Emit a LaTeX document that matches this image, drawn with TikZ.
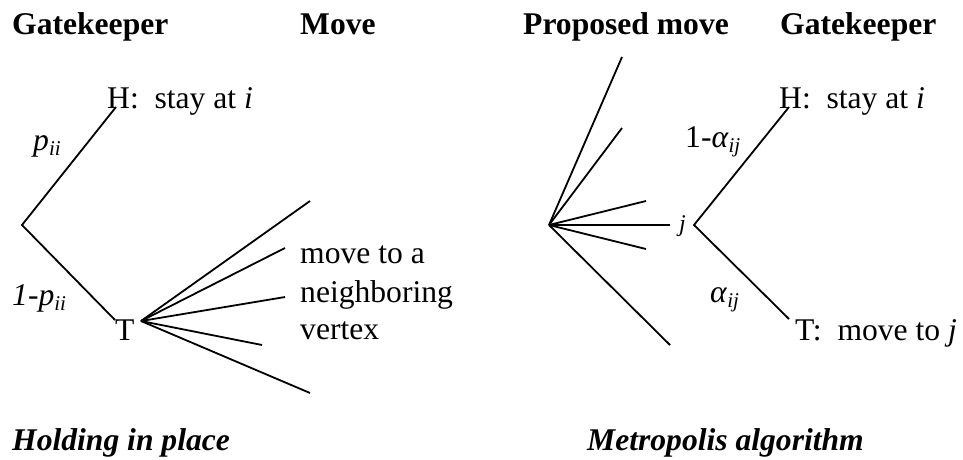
\documentclass[tikz,border=0pt]{standalone}
\usepackage{fontspec}
\setmainfont{Liberation Serif}
\newcommand\mysub[1]{\raisebox{-5pt}{\fontsize{21}{21}\selectfont\textit{#1}}}
\begin{document}
\begin{tikzpicture}[x=1pt,y=-1pt,
  txt/.style={inner sep=0pt, anchor=base west, font=\fontsize{31.6}{38}\selectfont},
  hdr/.style={txt, font=\fontsize{31.6}{38}\selectfont\bfseries},
  captxt/.style={txt, font=\fontsize{31.6}{38}\selectfont\bfseries\itshape},
  small/.style={txt, font=\fontsize{24}{28}\selectfont\itshape},
  branch/.style={draw=black, line width=1.8pt}]
\useasboundingbox (0,0) rectangle (963,460);

% headers
\node[hdr] (g1) at (12,35) {Gatekeeper};
\node[hdr] (mv) at (300,35) {Move};
\node[hdr] (pm) at (523,35) {Proposed move};
\node[hdr] (g2) at (780,35) {Gatekeeper};

% ---- left: holding in place
\coordinate (r1) at (22,225);
\coordinate (h1) at (116,107);
\coordinate (t1) at (115,320);
\draw[branch] (h1) -- (r1) -- (t1);
\node[txt] (H1) at (107,108) {H:\ \ stay at \textit{i}};
\node[txt] (T1) at (115,340) {T};
\node[txt] (p1) at (33,150) {\textit{p}\mysub{ii}};
\node[txt] (q1) at (12,305) {\textit{1-p}\mysub{ii}};

\coordinate (f1) at (141,321);
\coordinate (e1) at (310,201);
\coordinate (e2) at (285,248);
\coordinate (e3) at (285,297);
\coordinate (e4) at (262,345);
\coordinate (e5) at (310,393);
\foreach \e in {e1,e2,e3,e4,e5} \draw[branch] (f1) -- (\e);
\node[txt] (m1) at (300,263) {move to a};
\node[txt] (m2) at (300,302) {neighboring};
\node[txt] (m3) at (300,339) {vertex};

\node[captxt] (c1) at (12,450) {Holding in place};

% ---- right: Metropolis
\coordinate (f2) at (549,225);
\coordinate (d1) at (622,57);
\coordinate (d2) at (622,128);
\coordinate (d3) at (646,201);
\coordinate (d4) at (670,225);
\coordinate (d5) at (646,249);
\coordinate (d6) at (670,345);
\foreach \e in {d1,d2,d3,d4,d5,d6} \draw[branch] (f2) -- (\e);
\node[small] (jl) at (679,231) {j};

\coordinate (r2) at (694,225);
\coordinate (h2) at (789,107);
\coordinate (t2) at (789,319);
\draw[branch] (h2) -- (r2) -- (t2);
\node[txt] (H2) at (779,108) {H:\ \ stay at \textit{i}};
\node[txt] (T2) at (795,340) {T:\ \ move to \textit{j}};
\node[txt] (a1) at (685,147) {1-\textit{α}\mysub{ij}};
\node[txt] (a2) at (710,302) {\textit{α}\mysub{ij}};

\node[captxt] (c2) at (587,450) {Metropolis algorithm};
\end{tikzpicture}
\end{document}
